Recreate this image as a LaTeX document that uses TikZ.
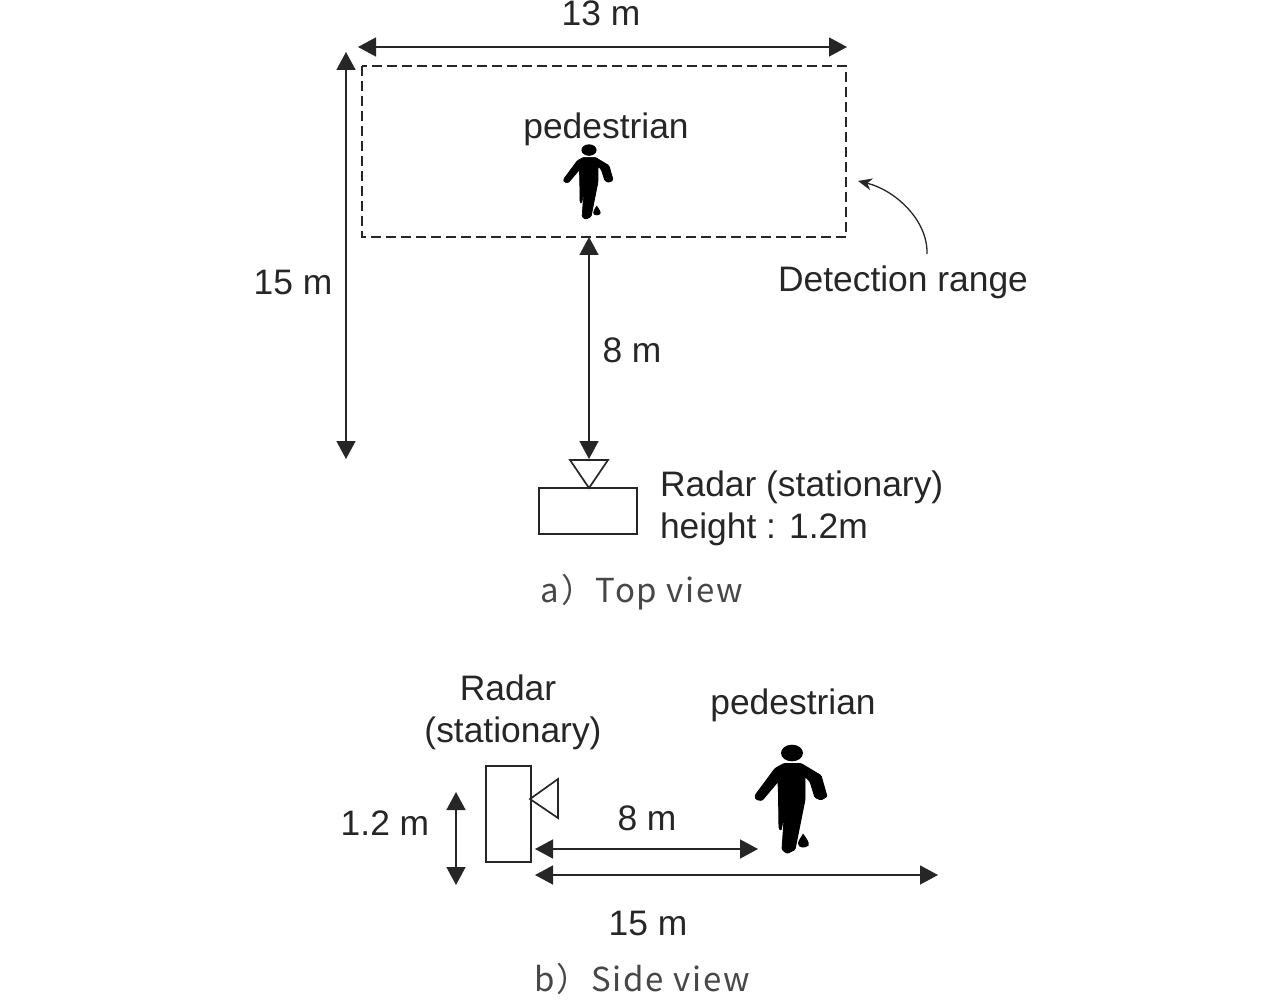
\documentclass[tikz,border=0pt]{standalone}
\usepackage{fontspec}
\setmainfont{Liberation Sans}
\newfontfamily\capfont[LetterSpace=5.5]{Noto Sans CJK JP}
\usetikzlibrary{arrows.meta}
\definecolor{ink}{HTML}{262626}
\newcommand{\walker}[4]{%
\begin{scope}[shift={(#1,#2)},x=#3pt,y=-#3pt,fill=black,draw=none]
\fill (0,-32.5) ellipse [x radius=11,y radius=8.3];
\filldraw[draw=black,line width=#3*0.9pt,line join=round,rounded corners=1.2pt] (-8,-22) -- (9,-22) -- (29,-10) -- (35,11) -- (29,14.5) -- (23,12) -- (18,-4) -- (13,-9) -- (13,14) -- (3,64) -- (-5,68) -- (-10,64) -- (-7,20) -- (-5,15) -- (-11,45) -- (-13,43) -- (-13.5,8) -- (-14,-4) -- (-30,15) -- (-36,14) -- (-37,10) -- (-17,-17) -- cycle;
\fill (11,48) .. controls (14,52) and (18,57) .. (16.5,60) .. controls (14,63) and (6,63) .. (6,58) .. controls (6,55) and (9,52) .. (11,48) -- cycle;
\end{scope}}
\tikzset{
 dim/.style={draw=ink,line width=1.5pt,{Triangle[length=18pt,width=19pt]}-{Triangle[length=18pt,width=19pt]},fill=ink,shorten >=0pt,shorten <=0pt},
 outline/.style={draw=ink,line width=1.7pt,fill=none},
 lab/.style={text=ink,font=\fontsize{35.4}{35.4}\selectfont,anchor=base,inner sep=0pt,outer sep=0pt},
 labl/.style={lab,anchor=base west},
 captxt/.style={text=ink!85,font=\fontsize{33}{33}\selectfont\capfont,anchor=base,inner sep=0pt,outer sep=0pt},
}
\begin{document}
\begin{tikzpicture}[x=1pt,y=-1pt]
\useasboundingbox (0,0) rectangle (1284,1008);
% top view
\coordinate (wL) at (358,47); \coordinate (wR) at (847,47);
\coordinate (hT) at (346,52); \coordinate (hB) at (346,459);
\coordinate (dT) at (589,237); \coordinate (dB) at (589,459);
\draw[dim] (wL) -- (wR);
\draw[dim] (hT) -- (hB);
\draw[dim] (dT) -- (dB);
\draw[draw=ink,line width=1.5pt,dash pattern=on 10pt off 5pt] (362,66) rectangle (846,237);
\coordinate (crvA) at (927,254); \coordinate (crvB) at (858,181);
\draw[draw=ink,line width=1.3pt,-{Stealth[length=14pt,width=12pt]}] (crvA) .. controls (928,220) and (895,190) .. (crvB);
\draw[outline,line join=miter] (570,460) -- (608,460) -- (589,488) -- cycle;
\draw[outline] (539,488) rectangle (637,534);
\walker{589}{172.5}{0.69}{}
\node[lab] (t13) at (601,26) {13 m};
\node[lab] (tped) at (606,139) {pedestrian};
\node[lab] (t15) at (293,294) {15 m};
\node[lab] (tdet) at (903,291) {Detection range};
\node[lab] (t8) at (632,362) {8 m};
\node[labl] (trad) at (660,496) {Radar (stationary)};
\node[labl] (thgt) at (660,538) {height : 1.2m};
\node[captxt] (capa) at (642,602) {a）Top view};
% side view
\coordinate (sA) at (456,792); \coordinate (sB) at (456,885);
\coordinate (eL) at (535,849); \coordinate (eR) at (758,849);
\coordinate (fL) at (535,875); \coordinate (fR) at (938,875);
\draw[dim] (sA) -- (sB);
\draw[dim] (eL) -- (eR);
\draw[dim] (fL) -- (fR);
\draw[outline] (486,766) rectangle (531,862);
\draw[outline,line join=miter] (530,799) -- (558,779) -- (558,818) -- cycle;
\walker{792}{785.5}{1}{}
\node[lab] (srad) at (508,700) {Radar};
\node[lab] (ssta) at (513,742) {(stationary)};
\node[lab] (sped) at (793,714) {pedestrian};
\node[lab] (s12) at (385,835) {1.2 m};
\node[lab] (s8) at (647,830) {8 m};
\node[lab] (s15) at (648,935) {15 m};
\node[captxt] (capb) at (642,991) {b）Side view};
\end{tikzpicture}
\end{document}
